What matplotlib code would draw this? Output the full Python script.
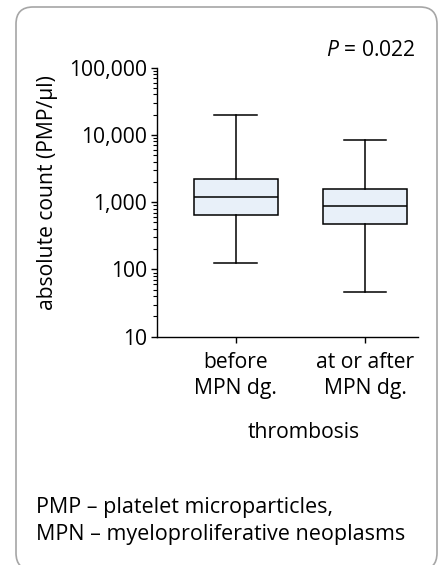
import numpy as np
import matplotlib
matplotlib.use('Agg')
import matplotlib.pyplot as plt
from matplotlib.patches import FancyBboxPatch
from matplotlib.ticker import LogLocator, FuncFormatter, NullFormatter

# values (PMP/ul)
groups = ['before\nMPN dg.', 'at or after\nMPN dg.']
whisker_low = [124, 47]
q1 = [636, 467]
median = [1190, 883]
q3 = [2210, 1570]
whisker_high = [19700, 8400]
y_ticks = [10, 100, 1000, 10000, 100000]
p_text = '$\\mathit{P}$ = 0.022'
footnote = 'PMP \u2013 platelet microparticles,\nMPN \u2013 myeloproliferative neoplasms'

plt.rcParams['font.family'] = ['Open Sans', 'DejaVu Sans']
plt.rcParams['mathtext.fontset'] = 'custom'
plt.rcParams['mathtext.it'] = 'Open Sans:italic'
plt.rcParams['mathtext.rm'] = 'Open Sans'
fs = 15.2

fig = plt.figure(figsize=(4.41, 5.65), dpi=100)
fig.patch.set_facecolor('white')

# rounded panel frame
panel = FancyBboxPatch((0.16, -0.05), 4.21, 5.63,
                       boxstyle='round,pad=0,rounding_size=0.17',
                       transform=fig.dpi_scale_trans,
                       facecolor='none', edgecolor='#a6a6a6', linewidth=1.2,
                       zorder=-1)
fig.patches.append(panel)

ax = fig.add_axes([157 / 441, 1 - 336.7 / 565, (418 - 157) / 441, (336.7 - 67.7) / 565])
ax.set_facecolor('none')

stats = []
for i in range(len(groups)):
    stats.append(dict(med=median[i], q1=q1[i], q3=q3[i],
                      whislo=whisker_low[i], whishi=whisker_high[i], fliers=[]))

lw = 1.1
ax.bxp(stats, positions=range(len(groups)), widths=0.65, patch_artist=True,
       showfliers=False,
       boxprops=dict(facecolor='#e8f0f9', edgecolor='black', linewidth=lw),
       medianprops=dict(color='black', linewidth=lw),
       whiskerprops=dict(color='black', linewidth=lw),
       capprops=dict(color='black', linewidth=lw),
       capwidths=0.33)

ax.set_yscale('log')
ax.set_ylim(10, 100000)
ax.set_xlim(-0.609, 1.41)
ax.set_yticks(y_ticks)
ax.yaxis.set_major_formatter(FuncFormatter(lambda v, pos: f'{v:,.0f}'))
ax.yaxis.set_minor_locator(LogLocator(base=10, subs=np.arange(2, 10)))
ax.yaxis.set_minor_formatter(NullFormatter())
ax.set_xticks(range(len(groups)))
ax.set_xticklabels(groups, linespacing=1.35)

for s in ['top', 'right']:
    ax.spines[s].set_visible(False)
for s in ['left', 'bottom']:
    ax.spines[s].set_linewidth(1.0)

ax.tick_params(axis='y', which='major', length=4.3, width=1.0, labelsize=fs, pad=3)
ax.tick_params(axis='y', which='minor', length=2.8, width=0.8)
ax.tick_params(axis='x', which='major', length=4.3, width=1.0, labelsize=fs, pad=6.5)

fig.text(48 / 441, 1 - 193 / 565, 'absolute count (PMP/\u00b5l)', rotation=90,
         ha='center', va='center', fontsize=fs)
fig.text(304 / 441, 1 - 433 / 565, 'thrombosis', ha='center', va='center', fontsize=fs)
fig.text(416 / 441, 1 - 50 / 565, p_text, ha='right', va='center', fontsize=fs)
fig.text(36 / 441, 1 - 521 / 565, footnote, ha='left', va='center', fontsize=fs + 0.3,
         linespacing=1.4)

fig.savefig('out.png', dpi=100)
